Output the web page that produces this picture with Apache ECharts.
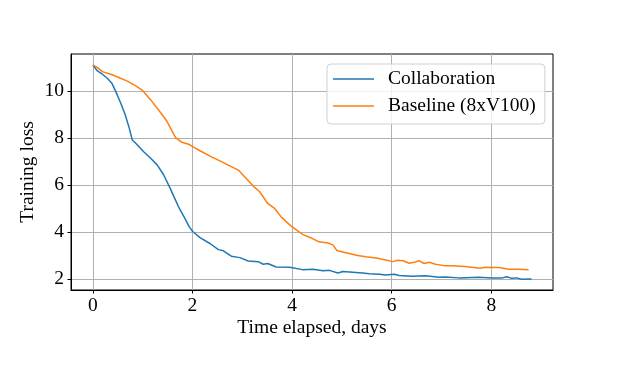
<!DOCTYPE html>
<html>
<head>
<meta charset="utf-8">
<script src="https://cdn.jsdelivr.net/npm/echarts@6/dist/echarts.min.js"></script>
<style>html,body{margin:0;padding:0;background:#fff;}#c{width:623px;height:365px;}</style>
</head>
<body>
<div id="c"></div>
<script>
const collabDays = [0,0.09,0.19,0.29,0.38,0.46,0.56,0.65,0.73,0.79,0.86,1.02,1.16,1.29,1.42,1.55,1.64,1.72,1.85,1.93,2.0,2.15,2.35,2.52,2.62,2.78,2.95,3.12,3.32,3.42,3.51,3.68,3.95,4.21,4.42,4.62,4.75,4.92,5.02,5.22,5.42,5.55,5.75,5.88,6.05,6.15,6.42,6.68,6.95,7.08,7.35,7.48,7.75,8.01,8.21,8.31,8.41,8.51,8.61,8.81];
const collabLoss = [11.10,10.85,10.71,10.54,10.33,9.97,9.48,8.98,8.42,7.92,7.78,7.42,7.14,6.86,6.44,5.87,5.45,5.08,4.58,4.25,4.04,3.77,3.52,3.26,3.21,2.98,2.92,2.78,2.75,2.64,2.67,2.52,2.51,2.41,2.43,2.36,2.38,2.27,2.33,2.30,2.27,2.24,2.21,2.18,2.21,2.16,2.13,2.15,2.09,2.10,2.06,2.07,2.09,2.06,2.05,2.11,2.04,2.06,2.00,2.01];
const baseDays = [0,0.09,0.19,0.36,0.52,0.69,0.86,0.99,1.16,1.32,1.49,1.66,1.79,1.92,2.04,2.15,2.39,2.52,2.68,2.92,3.08,3.22,3.35,3.51,3.65,3.78,3.98,4.21,4.41,4.54,4.72,4.82,4.9,5.08,5.32,5.48,5.72,5.88,6.02,6.12,6.23,6.35,6.45,6.55,6.65,6.76,6.88,7.05,7.21,7.48,7.78,7.88,8.15,8.35,8.55,8.75];
const baseLoss = [11.1,11.0,10.82,10.71,10.57,10.42,10.22,10.04,9.62,9.19,8.70,8.02,7.82,7.74,7.59,7.46,7.19,7.06,6.89,6.64,6.28,5.96,5.72,5.22,5.01,4.65,4.26,3.91,3.73,3.59,3.54,3.46,3.22,3.13,3.01,2.96,2.89,2.82,2.75,2.81,2.79,2.68,2.72,2.79,2.67,2.72,2.64,2.58,2.57,2.54,2.47,2.51,2.50,2.43,2.43,2.41];
const xTicks = [0,2,4,6,8];
const yTicks = [2,4,6,8,10];
const seriesNames = ['Collaboration','Baseline (8xV100)'];

const FONT = 'Liberation Serif';
const pairs = (xs, ys) => xs.map((x, i) => [x, ys[i]]);
const chart = echarts.init(document.getElementById('c'), null, {renderer: 'canvas'});
chart.setOption({
  animation: false,
  backgroundColor: '#fff',
  textStyle: {fontFamily: FONT},
  grid: {left: 71, right: 70, top: 54, bottom: 75, show: true, borderColor: '#000', borderWidth: 1, backgroundColor: 'transparent'},
  legend: {
    left: 327, top: 64, orient: 'vertical',
    padding: [5, 9, 8, 6],
    icon: 'rect',
    itemWidth: 41, itemHeight: 1.5, itemGap: 7,
    backgroundColor: 'rgba(255,255,255,0.8)',
    borderColor: '#d0d0d0', borderWidth: 1, borderRadius: 4,
    textStyle: {fontFamily: FONT, fontSize: 19.5, color: '#000', padding: [0,0,0,9], lineHeight: 20},
    data: seriesNames
  },
  xAxis: {
    type: 'value', min: -0.44, max: 9.24,
    name: 'Time elapsed, days', nameLocation: 'middle', nameGap: 28, nameMoveOverlap: false,
    nameTextStyle: {fontFamily: FONT, fontSize: 19.5, color: '#000'},
    axisLine: {show: true, onZero: false, lineStyle: {color: '#000', width: 1}},
    axisTick: {show: true, customValues: xTicks, length: 3.5, lineStyle: {color: '#000'}},
    axisLabel: {customValues: xTicks, fontFamily: FONT, fontSize: 19.5, color: '#000', margin: 6},
    splitLine: {show: true, lineStyle: {color: '#b0b0b0', width: 1}}
  },
  yAxis: {
    type: 'value', min: 1.545, max: 11.57,
    name: 'Training loss', nameLocation: 'middle', nameGap: 33, nameMoveOverlap: false,
    nameTextStyle: {fontFamily: FONT, fontSize: 19.5, color: '#000'},
    axisLine: {show: true, onZero: false, lineStyle: {color: '#000', width: 1}},
    axisTick: {show: true, customValues: yTicks, length: 3.5, lineStyle: {color: '#000'}},
    axisLabel: {customValues: yTicks, fontFamily: FONT, fontSize: 19.5, color: '#000', margin: 7},
    splitLine: {show: true, lineStyle: {color: '#b0b0b0', width: 1}}
  },
  series: [
    {name: seriesNames[0], type: 'line', symbol: 'none', data: pairs(collabDays, collabLoss), lineStyle: {color: '#1f77b4', width: 1.5}, itemStyle: {color: '#1f77b4'}},
    {name: seriesNames[1], type: 'line', symbol: 'none', data: pairs(baseDays, baseLoss), lineStyle: {color: '#ff7f0e', width: 1.5}, itemStyle: {color: '#ff7f0e'}}
  ]
});
</script>
</body>
</html>
